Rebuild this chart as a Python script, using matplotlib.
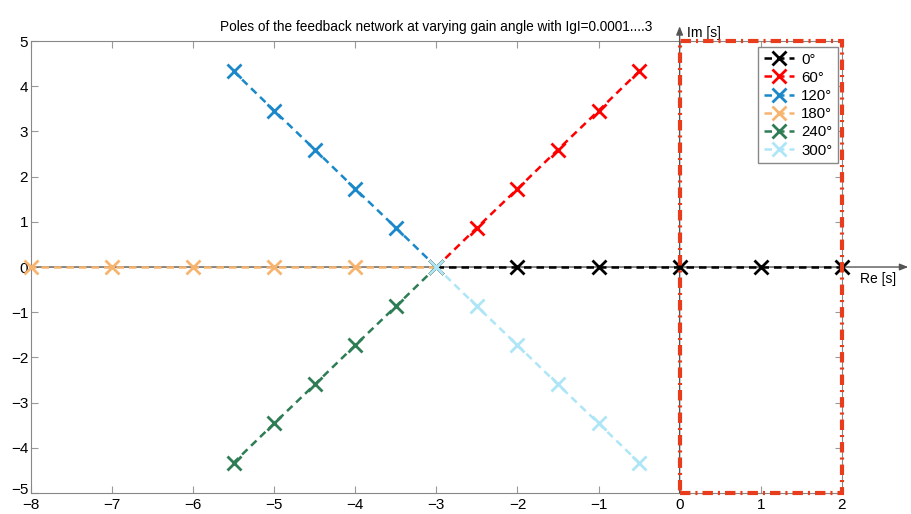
import matplotlib
matplotlib.use('Agg')
import matplotlib.pyplot as plt
from matplotlib.patches import Rectangle
from matplotlib.transforms import ScaledTranslation

plt.rcParams['font.family'] = ['Liberation Sans', 'DejaVu Sans']

# pole locations for each gain angle, |g| steps
angles = ['0°', '60°', '120°', '180°', '240°', '300°']
re_0 = [-3, -2, -1, 0, 1, 2]
im_0 = [0, 0, 0, 0, 0, 0]
re_60 = [-3, -2.5, -2, -1.5, -1, -0.5]
im_60 = [0, 0.87, 1.73, 2.6, 3.46, 4.33]
re_120 = [-3, -3.5, -4, -4.5, -5, -5.5]
im_120 = [0, 0.87, 1.73, 2.6, 3.46, 4.33]
re_180 = [-3, -4, -5, -6, -7, -8]
im_180 = [0, 0, 0, 0, 0, 0]
re_240 = [-3, -3.5, -4, -4.5, -5, -5.5]
im_240 = [0, -0.87, -1.73, -2.6, -3.46, -4.33]
re_300 = [-3, -2.5, -2, -1.5, -1, -0.5]
im_300 = [0, -0.87, -1.73, -2.6, -3.46, -4.33]

xs = [re_0, re_60, re_120, re_180, re_240, re_300]
ys = [im_0, im_60, im_120, im_180, im_240, im_300]
cols = ['#000000', '#ff0000', '#1a88c9', '#f7b46e', '#2e7d55', '#aee6f8']

xticks = list(range(-8, 3))
yticks = list(range(-5, 6))

fig = plt.figure(figsize=(9.12, 5.14), dpi=100)
ax = fig.add_axes([0.034, 0.041, 0.889, 0.879])

# real and imaginary axes with arrow heads
ax.annotate('', xy=(2.82, 0), xytext=(-8, 0), annotation_clip=False,
            arrowprops=dict(arrowstyle='-|>,head_length=0.5,head_width=0.2',
                            color='#555555', lw=1, shrinkA=0, shrinkB=0))
ax.annotate('', xy=(0, 5.33), xytext=(0, -5), annotation_clip=False,
            arrowprops=dict(arrowstyle='-|>,head_length=0.5,head_width=0.2',
                            color='#555555', lw=1, shrinkA=0, shrinkB=0))
ax.text(2.22, -0.12, 'Re [s]', fontsize=10, va='top', ha='left', clip_on=False)
ax.text(0.09, 5.17, 'Im [s]', fontsize=10, va='center', ha='left', clip_on=False)

for x, y, c, lab in zip(xs, ys, cols, angles):
    ax.plot(x, y, '--x', color=c, lw=1.8, ms=10, mew=2, label=lab,
            dashes=(3, 2), clip_on=False, zorder=3)

ax.add_patch(Rectangle((0, -5), 2, 10, fill=False, edgecolor='#e83c1c',
                       lw=3, linestyle=(0, (2.5, 1.2, 0.5, 1.2)),
                       clip_on=False, zorder=4))

ax.set_xlim(-8, 2)
ax.set_ylim(-5, 5)
ax.set_xticks(xticks)
ax.set_yticks(yticks)
ax.tick_params(direction='in', length=5, color='#999999', labelsize=11,
               top=True, right=True)
ax.tick_params(axis='x', pad=4)
ax.tick_params(axis='y', pad=2)
for s in ax.spines.values():
    s.set_color('#888888')
# bottom y label sits a bit higher so it clears the x labels
lab_m5 = ax.get_yticklabels()[0]
lab_m5.set_transform(lab_m5.get_transform() +
                     ScaledTranslation(0, 3 / 72, fig.dpi_scale_trans))

ax.set_title('Poles of the feedback network at varying gain angle with IgI=0.0001....3',
             fontsize=9.8, pad=7)

leg = ax.legend(loc='upper right', bbox_to_anchor=(1.004, 1.003), fontsize=10.8,
                fancybox=False, framealpha=1, edgecolor='#888888',
                handlelength=2.0, borderpad=0.35, labelspacing=0.28,
                handletextpad=0.5)
leg.get_frame().set_linewidth(1)

fig.savefig('out.png', dpi=100)
